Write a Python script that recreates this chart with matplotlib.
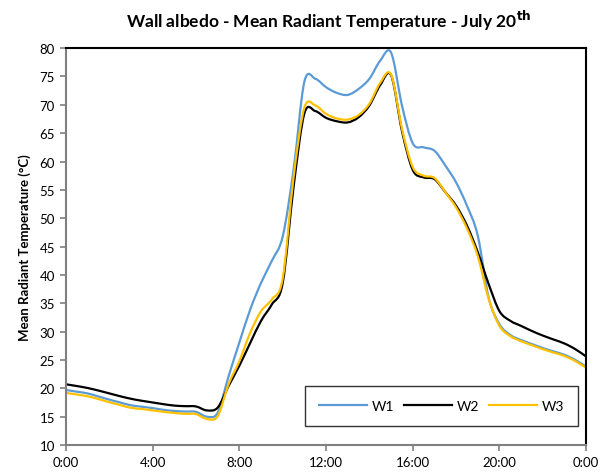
import matplotlib
matplotlib.use('Agg')
import matplotlib.pyplot as plt
import numpy as np
from matplotlib.path import Path
from matplotlib.patches import PathPatch
from matplotlib.lines import Line2D

plt.rcParams['font.family'] = ['Lato', 'DejaVu Sans']

# half-hourly readings, 0:00 .. 24:00
hours = np.arange(0, 24.5, 0.5)
w1 = [19.7, 19.4, 19.1, 18.55, 18.0, 17.5, 17.0, 16.75, 16.5, 16.2, 16.0, 15.9, 15.85, 15.0, 15.7,
      22.1, 28.1, 33.9, 38.6, 42.5, 46.8, 58.6, 74.1, 74.6, 73.1, 72.1, 71.75, 72.8, 74.6, 77.8,
      79.2, 69.9, 63.2, 62.5, 61.9, 59.3, 56.3, 52.2, 46.9, 36.0, 31.3, 29.4, 28.5, 27.8, 27.1,
      26.5, 25.9, 25.0, 23.8]
w2 = [20.7, 20.4, 20.05, 19.6, 19.1, 18.6, 18.15, 17.8, 17.5, 17.2, 16.95, 16.85, 16.8, 16.1, 16.6,
      20.4, 24.0, 28.0, 31.9, 34.8, 38.6, 55.5, 68.5, 68.9, 67.7, 67.1, 66.9, 67.8, 69.9, 73.5,
      75.2, 65.4, 58.5, 57.2, 56.9, 54.6, 52.2, 48.7, 44.0, 38.4, 33.6, 31.9, 31.0, 30.1, 29.3,
      28.6, 27.9, 26.9, 25.6]
w3 = [19.2, 18.9, 18.6, 18.1, 17.55, 17.05, 16.55, 16.35, 16.1, 15.85, 15.65, 15.5, 15.45, 14.6, 15.1,
      20.7, 24.8, 29.8, 33.6, 35.7, 39.4, 57.2, 69.5, 69.9, 68.4, 67.6, 67.4, 68.2, 70.2, 73.9,
      75.3, 65.8, 59.0, 57.5, 57.1, 54.6, 51.9, 48.2, 43.3, 35.8, 31.0, 29.2, 28.3, 27.6, 26.9,
      26.3, 25.7, 24.8, 23.6]
names = ['W1', 'W2', 'W3']
colors = ['#5B9BD5', '#000000', '#FFC000']
xtick_pos = [0, 4, 8, 12, 16, 20, 24]
xtick_lab = ['0:00', '4:00', '8:00', '12:00', '16:00', '20:00', '0:00']


def smooth_path(x, y):
    # Excel-style smoothed line: Catmull-Rom segments as cubic beziers
    pts = np.column_stack([x, y])
    n = len(pts)
    verts = [pts[0]]
    codes = [Path.MOVETO]
    for i in range(n - 1):
        p0 = pts[max(i - 1, 0)]
        p1 = pts[i]
        p2 = pts[i + 1]
        p3 = pts[min(i + 2, n - 1)]
        verts += [p1 + (p2 - p0) / 6.0, p2 - (p3 - p1) / 6.0, p2]
        codes += [Path.CURVE4] * 3
    return Path(verts, codes)


fig = plt.figure(figsize=(6.07, 4.77), dpi=100)
ax = fig.add_axes([0.1087, 0.065, 0.857, 0.832])

handles = []
for vals, c, nm in zip([w1, w2, w3], colors, names):
    patch = PathPatch(smooth_path(hours, vals), facecolor='none', edgecolor=c, lw=1.6,
                      transform=ax.transData, capstyle='round', joinstyle='round')
    ax.add_patch(patch)
    handles.append(Line2D([], [], color=c, lw=1.6, label=nm))

ax.set_xlim(0, 24)
ax.set_ylim(10, 80)
ax.set_yticks(range(10, 81, 5))
ax.set_xticks(xtick_pos)
ax.set_xticklabels(xtick_lab)
ax.tick_params(axis='both', direction='out', length=4, width=1.2, color='#808080',
               labelsize=9.5, labelcolor='black', pad=4)

for s in ['left', 'bottom']:
    ax.spines[s].set_color('#808080')
    ax.spines[s].set_linewidth(1.5)
for s in ['top', 'right']:
    ax.spines[s].set_color('black')
    ax.spines[s].set_linewidth(1.5)

ax.set_ylabel('Mean Radiant Temperature (°C)', fontsize=9.5, fontweight='bold', labelpad=6)
fig.text(0.542, 0.957, 'Wall albedo - Mean Radiant Temperature - July 20$^{\\mathbf{th}}$',
         ha='center', va='center', fontsize=12.5, fontweight='bold')

leg = ax.legend(handles=handles, loc='lower right', bbox_to_anchor=(0.985, 0.048), ncol=3,
                fontsize=10, frameon=True, fancybox=False, handlelength=3.4,
                columnspacing=0.7, handletextpad=0.4, borderpad=1.0, borderaxespad=0)
leg.get_frame().set_edgecolor('black')
leg.get_frame().set_linewidth(1.0)

fig.savefig('out.png', dpi=100)
